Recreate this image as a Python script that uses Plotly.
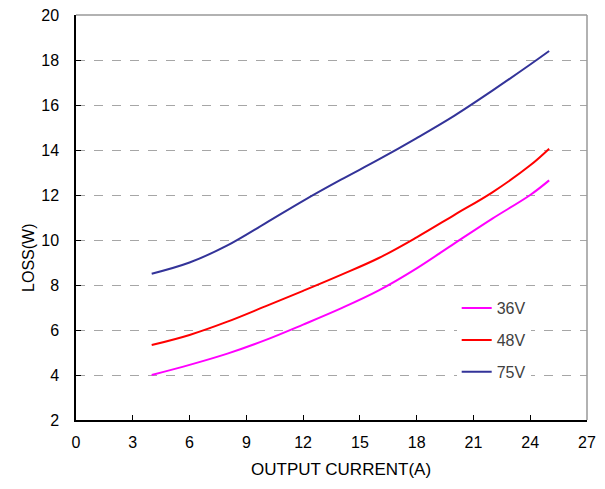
import plotly.graph_objects as go

current = [4, 6, 8, 10, 12, 14, 16, 18, 20, 22, 24, 25]
loss_36v = [4.0, 4.45, 4.95, 5.55, 6.24, 6.96, 7.76, 8.74, 9.85, 10.95, 12.0, 12.65]
loss_48v = [5.33, 5.78, 6.37, 7.05, 7.74, 8.45, 9.2, 10.12, 11.12, 12.12, 13.32, 14.06]
loss_75v = [8.5, 9.0, 9.76, 10.74, 11.74, 12.68, 13.58, 14.53, 15.53, 16.64, 17.8, 18.4]

series = [
    ("36V", loss_36v, "#FF00FF"),
    ("48V", loss_48v, "#FF0000"),
    ("75V", loss_75v, "#333399"),
]

x_ticks = [0, 3, 6, 9, 12, 15, 18, 21, 24, 27]
y_ticks = [2, 4, 6, 8, 10, 12, 14, 16, 18, 20]
x_title = "OUTPUT CURRENT(A)"
y_title = "LOSS(W)"

fig = go.Figure()
for i, (name, vals, color) in enumerate(series):
    fig.add_trace(go.Scatter(
        x=current, y=vals, name=name, mode="lines",
        line=dict(color=color, width=2, shape="spline", smoothing=1.0),
        legendgroup=f"g{i}",
    ))

font = "Liberation Sans, Arial, sans-serif"
# page body has an 8px default margin, so the figure is offset by 8px
fig.update_layout(
    width=597, height=481,
    margin=dict(l=68, r=18, t=7, b=69),
    paper_bgcolor="white", plot_bgcolor="white",
    font=dict(family=font, size=16, color="black"),
    showlegend=True,
    legend=dict(
        x=0.745, y=0.318, xanchor="left", yanchor="top",
        bgcolor="white", borderwidth=0,
        font=dict(family=font, size=16, color="#404040"),
        traceorder="grouped", tracegroupgap=8,
    ),
    xaxis=dict(
        range=[0, 27], tickvals=x_ticks, ticktext=[str(v) for v in x_ticks],
        showgrid=False, zeroline=False, automargin=False,
        showline=True, linecolor="black", linewidth=1.5,
        ticks="inside", ticklen=5, tickcolor="black", tickwidth=1,
        ticklabelstandoff=7, ticklabeloverflow="allow",
        tickfont=dict(size=16),
    ),
    yaxis=dict(
        range=[2, 20], tickvals=y_ticks, ticktext=[str(v) for v in y_ticks],
        showgrid=True, gridcolor="#a6a6a6", griddash="dash", gridwidth=1,
        zeroline=False, automargin=False,
        showline=True, linecolor="black", linewidth=1.5,
        ticks="inside", ticklen=5, tickcolor="black", tickwidth=1,
        ticklabelstandoff=12, ticklabeloverflow="allow",
        tickfont=dict(size=16),
    ),
    annotations=[
        dict(text=x_title, xref="paper", yref="paper", x=0.519, y=-0.123,
             xanchor="center", yanchor="middle", showarrow=False,
             font=dict(family=font, size=17, color="black")),
        dict(text=y_title, xref="paper", yref="paper", x=-0.094, y=0.4,
             xanchor="center", yanchor="middle", showarrow=False, textangle=-90,
             font=dict(family=font, size=16, color="black")),
    ],
)

# gray top and right frame lines
fig.add_shape(type="line", xref="paper", yref="paper", x0=0, x1=1, y0=1, y1=1,
              line=dict(color="#999999", width=1.5))
fig.add_shape(type="line", xref="paper", yref="paper", x0=1, x1=1, y0=0, y1=1,
              line=dict(color="#999999", width=1.5))

fig.write_html("out.html")
